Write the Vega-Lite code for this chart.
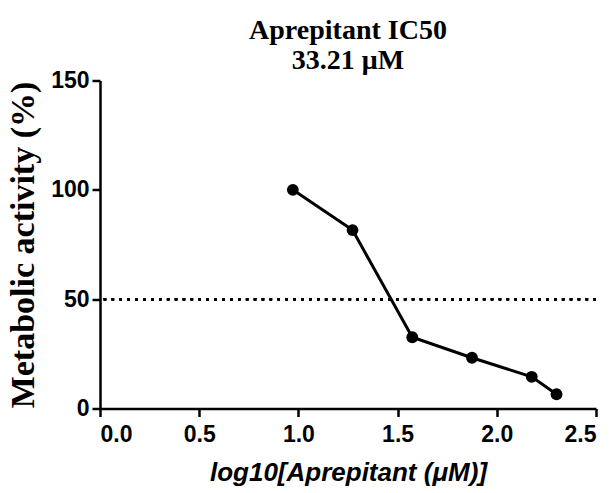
{
  "$schema": "https://vega.github.io/schema/vega-lite/v6.json",
  "autosize": {"type": "none"},
  "width": 496,
  "height": 328,
  "padding": {"left": 100, "top": 80.5, "right": 18, "bottom": 84.5},
  "background": "white",
  "config": {
    "view": {"stroke": null},
    "axis": {
      "grid": false,
      "domainColor": "black",
      "domainWidth": 2.5,
      "tickColor": "black",
      "tickWidth": 2.5,
      "tickSize": 8,
      "labelColor": "black",
      "labelFont": "Liberation Sans",
      "labelFontWeight": "bold",
      "labelFontSize": 23,
      "titleColor": "black"
    }
  },
  "title": {
    "text": "Aprepitant IC50",
    "subtitle": "33.21 μM",
    "font": "Liberation Serif",
    "fontSize": 28,
    "fontWeight": "bold",
    "color": "black",
    "subtitleFont": "Liberation Serif",
    "subtitleFontSize": 28,
    "subtitleFontWeight": "bold",
    "subtitleColor": "black",
    "subtitlePadding": 2,
    "anchor": "middle",
    "frame": "group",
    "offset": -5
  },
  "data": {
    "values": [
      {"logConc": 0.972, "activity": 100.0},
      {"logConc": 1.273, "activity": 81.6},
      {"logConc": 1.574, "activity": 32.6},
      {"logConc": 1.875, "activity": 23.2},
      {"logConc": 2.176, "activity": 14.5},
      {"logConc": 2.301, "activity": 6.5}
    ]
  },
  "layer": [
    {
      "mark": {"type": "rule", "color": "black", "strokeWidth": 2.5, "strokeDash": [2.5, 5.4]},
      "encoding": {"y": {"datum": 50, "type": "quantitative"}}
    },
    {
      "mark": {"type": "line", "color": "black", "strokeWidth": 3},
      "encoding": {
        "x": {
          "field": "logConc", "type": "quantitative",
          "scale": {"domain": [0, 2.5], "nice": false},
          "axis": {
            "values": [0, 0.5, 1, 1.5, 2, 2.5],
            "format": ".1f",
            "labelPadding": 7,
            "title": "log10[Aprepitant (μM)]",
            "titleFont": "Liberation Sans",
            "titleFontStyle": "italic",
            "titleFontWeight": "bold",
            "titleFontSize": 26,
            "titlePadding": 13
          }
        },
        "y": {
          "field": "activity", "type": "quantitative",
          "scale": {"domain": [0, 150], "nice": false},
          "axis": {
            "values": [0, 50, 100, 150],
            "labelPadding": 3,
            "title": "Metabolic activity (%)",
            "titleFont": "Liberation Serif",
            "titleFontWeight": "bold",
            "titleFontSize": 34,
            "titlePadding": 10
          }
        }
      }
    },
    {
      "mark": {"type": "point", "filled": true, "opacity": 1, "color": "black", "size": 140},
      "encoding": {
        "x": {"field": "logConc", "type": "quantitative"},
        "y": {"field": "activity", "type": "quantitative"}
      }
    }
  ]
}
